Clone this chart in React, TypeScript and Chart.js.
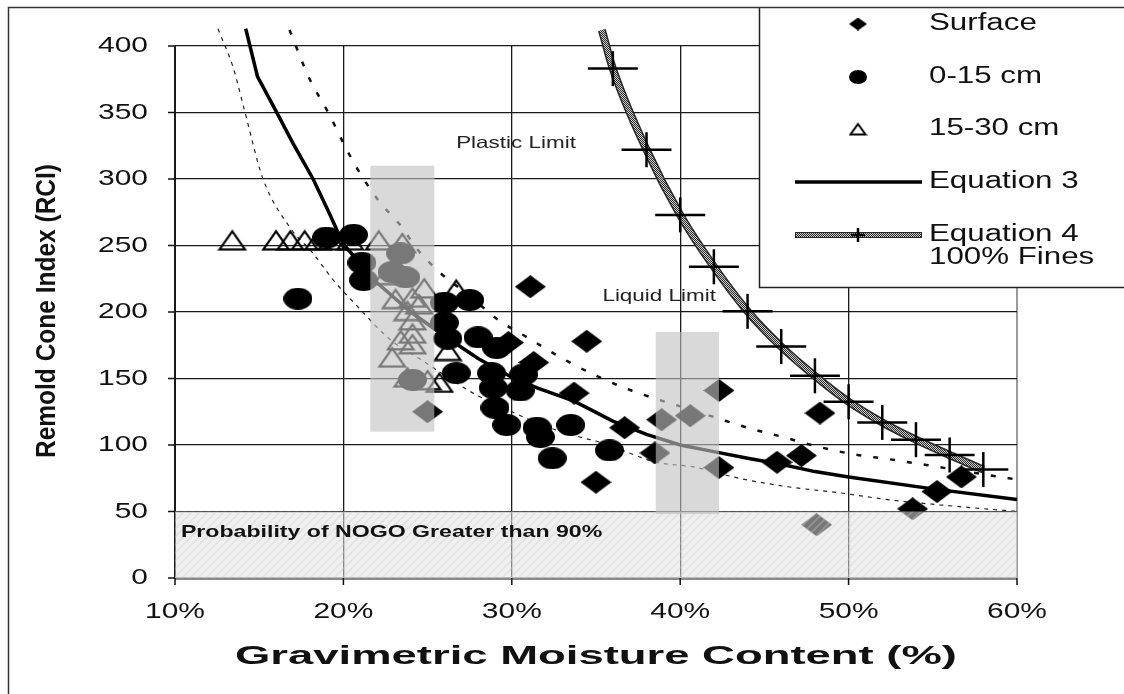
import React, { useEffect, useRef } from 'react';
import { Chart, registerables } from 'chart.js';

Chart.register(...registerables);

// ---------- tick labels ----------
const xTickValues = [10, 20, 30, 40, 50, 60];
const xTickLabels = ['10%', '20%', '30%', '40%', '50%', '60%'];
const yTickValues = [0, 50, 100, 150, 200, 250, 300, 350, 400];
const yTickLabels = ['0', '50', '100', '150', '200', '250', '300', '350', '400'];

// ---------- Surface (diamonds) ----------
const surfaceX = [31.1, 34.45, 31.3, 33.7, 29.8, 35.0, 36.7, 38.5, 38.9, 40.6, 42.3, 42.3, 48.3, 45.75, 47.2, 55.25, 56.7, 53.8, 48.1, 25.0];
const surfaceY = [219, 178, 162, 139, 177, 72, 113, 94, 119, 122, 141, 83, 124, 87, 92, 65, 76, 52, 40, 125];

// ---------- 0-15 cm (circles) ----------
const depth1X = [17.3, 19.0, 20.6, 21.1, 21.2, 23.4, 22.9, 23.7, 24.1, 26.0, 27.5, 26.0, 28.0, 29.1, 26.7, 28.8, 30.7, 28.9, 30.5, 29.0, 29.7, 31.5, 31.7, 33.5, 32.4, 35.8, 26.2];
const depth1Y = [210, 256, 258, 237, 224, 244, 230, 226, 149, 207, 209, 192, 181, 173, 154, 154, 153, 143, 141, 128, 115, 113, 106, 115, 90, 96, 180];

// ---------- 15-30 cm (triangles) ----------
const depth2X = [13.4, 16.0, 16.85, 17.7, 18.5, 19.3, 20.4, 22.1, 23.5, 23.1, 24.1, 24.8, 24.5, 23.8, 23.4, 24.1, 22.9, 24.1, 24.1, 23.8, 25.0, 26.2, 25.7, 26.7, 22.6];
const depth2Y = [254, 254, 254, 254, 254, 254, 254, 254, 252, 210, 211, 218, 206, 201, 179, 184, 166, 176, 194, 151, 149, 171, 147, 217, 228];

// ---------- Equation 3 ----------
const eq3X = [14.2, 14.9, 16.0, 17.0, 18.2, 19.1, 20.0, 22, 24, 26, 28, 30, 31.5, 33.7, 36, 38, 40, 42, 44, 46, 48, 50, 55, 60];
const eq3Y = [413, 377, 351, 327, 300, 276, 251, 222, 200, 182, 165, 151, 143, 133, 118, 108, 100, 95, 90, 85.5, 80, 76, 67, 59];

// ---------- upper dashed bound ----------
const upperX = [16.8, 18.0, 19.1, 20.2, 21.2, 22.2, 23.4, 24.4, 25.7, 27.5, 29.2, 30.9, 33.3, 35.2, 37.1, 40.0, 42.0, 44.0, 46.1, 48.1, 50.3, 52.3, 54.6, 57.0, 60.0];
const upperY = [412, 375, 350, 322, 300, 282, 265, 247, 230, 212, 194, 181, 163, 151, 141, 129, 121, 113, 106, 99, 93, 89.5, 85, 80, 74];

// ---------- lower dotted bound ----------
const lowerX = [12.55, 13.45, 14.16, 15.2, 16.8, 18.2, 19.4, 21.0, 22.2, 23.0, 24.5, 26.2, 27.7, 30.0, 32.0, 34.05, 35.4, 38.6, 40.8, 43.5, 46.5, 49.5, 52.5, 55.4, 60.0];
const lowerY = [413, 384, 350, 301, 264, 244, 224, 202, 186, 177, 165, 151, 139, 125, 114, 106, 101.5, 87, 83.5, 75, 68.4, 64, 58.6, 55, 50];

// ---------- Equation 4, 100% fines ----------
const eq4StartX = [35.35];
const eq4StartY = [412];
const eq4X = [36, 38, 40, 42, 44, 46, 48, 50, 52, 54, 56, 58];
const eq4Y = [383, 322, 273, 234, 200.5, 174, 152, 132.5, 117, 104, 92.5, 81.5];

// ---------- shaded regions ----------
const plasticBoxX = [21.6, 25.4];
const plasticBoxY = [110, 310];
const liquidBoxX = [38.55, 42.3];
const liquidBoxY = [48, 185];
const nogoY = [0, 50];

// ---------- annotations ----------
const plasticLabel = { text: 'Plastic Limit', x: 30.25, y: 327 };
const liquidLabel = { text: 'Liquid Limit', x: 38.75, y: 212 };
const nogoLabel = { text: 'Probability of NOGO Greater than 90%', x: 10.35, y: 34 };
const xTitle = 'Gravimetric Moisture Content (%)';
const yTitle = 'Remold Cone Index (RCI)';
const legendLabels = ['Surface', '0-15 cm', '15-30 cm', 'Equation 3', 'Equation 4', '100% Fines'];

const W = 1124;
const H = 694;
const FONT = '"Liberation Sans", Arial, Helvetica, sans-serif';
const SX = 1.36;

function pts(xs: number[], ys: number[]) {
  return xs.map((x, i) => ({ x, y: ys[i] }));
}

function makeCanvas(w: number, h: number) {
  const c = document.createElement('canvas');
  c.width = w;
  c.height = h;
  return c;
}

function makeDiamond(w: number, h: number) {
  const c = makeCanvas(w, h);
  const g = c.getContext('2d')!;
  g.fillStyle = '#000';
  g.beginPath();
  g.moveTo(w / 2, 0);
  g.lineTo(w, h / 2);
  g.lineTo(w / 2, h);
  g.lineTo(0, h / 2);
  g.closePath();
  g.fill();
  return c;
}

function makeEllipse(w: number, h: number) {
  const c = makeCanvas(w, h);
  const g = c.getContext('2d')!;
  g.fillStyle = '#000';
  g.beginPath();
  g.ellipse(w / 2, h / 2, w / 2, h / 2, 0, 0, Math.PI * 2);
  g.fill();
  return c;
}

function makeTriangle(w: number, h: number, lw: number) {
  const c = makeCanvas(w, h);
  const g = c.getContext('2d')!;
  g.strokeStyle = '#000';
  g.lineWidth = lw;
  g.lineJoin = 'miter';
  g.beginPath();
  g.moveTo(w / 2, lw);
  g.lineTo(w - lw, h - lw / 2 - 0.5);
  g.lineTo(lw, h - lw / 2 - 0.5);
  g.closePath();
  g.stroke();
  return c;
}

function makeChecker() {
  const c = makeCanvas(2, 2);
  const g = c.getContext('2d')!;
  g.fillStyle = '#cfcfcf';
  g.fillRect(0, 0, 2, 2);
  g.fillStyle = '#2a2a2a';
  g.fillRect(0, 0, 1, 1);
  g.fillRect(1, 1, 1, 1);
  return c;
}

function makeHatch() {
  const c = makeCanvas(8, 8);
  const g = c.getContext('2d')!;
  g.fillStyle = 'rgba(227,227,227,0.53)';
  g.fillRect(0, 0, 8, 8);
  g.strokeStyle = 'rgba(200,200,200,0.35)';
  g.lineWidth = 1.6;
  g.beginPath();
  g.moveTo(0, 8);
  g.lineTo(8, 0);
  g.moveTo(-4, 4);
  g.lineTo(4, -4);
  g.moveTo(4, 12);
  g.lineTo(12, 4);
  g.stroke();
  return c;
}

function stretchText(
  ctx: CanvasRenderingContext2D,
  text: string,
  x: number,
  y: number,
  font: string,
  sx: number,
  align: CanvasTextAlign,
  color: string
) {
  ctx.save();
  ctx.font = font;
  ctx.fillStyle = color;
  ctx.textAlign = align;
  ctx.textBaseline = 'middle';
  ctx.translate(x, y);
  ctx.scale(sx, 1);
  ctx.fillText(text, 0, 0);
  ctx.restore();
}

export default function App() {
  const ref = useRef<HTMLCanvasElement>(null);

  useEffect(() => {
    const canvas = ref.current!;
    const diamond = makeDiamond(31, 23);
    const ellipse = makeEllipse(29, 22);
    const triangle = makeTriangle(30, 22, 2.2);
    const lgDiamond = makeDiamond(18, 13);
    const lgEllipse = makeEllipse(18, 14);
    const lgTriangle = makeTriangle(19, 14, 2);
    const tmp = makeCanvas(2, 2).getContext('2d')!;
    const checker = tmp.createPattern(makeChecker(), 'repeat')!;
    const hatch = tmp.createPattern(makeHatch(), 'repeat')!;

    const overlayPlugin = {
      id: 'overlay',
      beforeDraw(chart: any) {
        const { ctx } = chart;
        ctx.save();
        ctx.fillStyle = '#ffffff';
        ctx.fillRect(0, 0, chart.width, chart.height);
        ctx.restore();
      },
      afterDatasetsDraw(chart: any) {
        const { ctx } = chart;
        const x = chart.scales.x;
        const y = chart.scales.y;
        ctx.save();
        // NOGO hatched overlay
        const hx0 = x.getPixelForValue(10);
        const hx1 = x.getPixelForValue(60);
        const hy0 = y.getPixelForValue(nogoY[1]);
        const hy1 = y.getPixelForValue(nogoY[0]);
        ctx.fillStyle = hatch;
        ctx.fillRect(hx0, hy0, hx1 - hx0, hy1 - hy0);
        // limit boxes
        ctx.fillStyle = 'rgba(193,193,193,0.62)';
        const boxes = [
          [plasticBoxX, plasticBoxY],
          [liquidBoxX, liquidBoxY],
        ];
        for (const [bx, by] of boxes) {
          const x0 = x.getPixelForValue(bx[0]);
          const x1 = x.getPixelForValue(bx[1]);
          const y0 = y.getPixelForValue(by[1]);
          const y1 = y.getPixelForValue(by[0]);
          ctx.fillRect(x0, y0, x1 - x0, y1 - y0);
        }
        ctx.restore();
      },
      afterDraw(chart: any) {
        const { ctx } = chart;
        const x = chart.scales.x;
        const y = chart.scales.y;
        const area = chart.chartArea;
        ctx.save();
        // tick marks
        ctx.strokeStyle = '#111';
        ctx.lineWidth = 1.5;
        ctx.beginPath();
        yTickValues.forEach((v) => {
          const py = y.getPixelForValue(v);
          ctx.moveTo(area.left - 7, py);
          ctx.lineTo(area.left, py);
        });
        xTickValues.forEach((v) => {
          const px = x.getPixelForValue(v);
          ctx.moveTo(px, area.bottom);
          ctx.lineTo(px, area.bottom + 7);
        });
        ctx.stroke();

        // tick labels
        const tickFont = `22px ${FONT}`;
        yTickValues.forEach((v, i) => {
          stretchText(ctx, yTickLabels[i], 148, y.getPixelForValue(v), tickFont, SX, 'right', '#111');
        });
        xTickValues.forEach((v, i) => {
          stretchText(ctx, xTickLabels[i], x.getPixelForValue(v), 612, tickFont, SX, 'center', '#111');
        });

        // axis titles
        ctx.save();
        ctx.font = `bold 25px ${FONT}`;
        const xw = ctx.measureText(xTitle).width;
        ctx.restore();
        stretchText(ctx, xTitle, (area.left + area.right) / 2, 657, `bold 25px ${FONT}`, 722 / xw, 'center', '#111');

        ctx.save();
        ctx.font = `bold 20px ${FONT}`;
        const yw = ctx.measureText(yTitle).width;
        ctx.translate(47, 311);
        ctx.rotate(-Math.PI / 2);
        ctx.scale(294 / yw, SX);
        ctx.fillStyle = '#111';
        ctx.textAlign = 'center';
        ctx.textBaseline = 'middle';
        ctx.fillText(yTitle, 0, 0);
        ctx.restore();

        // annotations
        const labFont = `16.5px ${FONT}`;
        stretchText(ctx, plasticLabel.text, x.getPixelForValue(plasticLabel.x), y.getPixelForValue(plasticLabel.y), labFont, SX, 'center', '#222');
        stretchText(ctx, liquidLabel.text, x.getPixelForValue(liquidLabel.x), y.getPixelForValue(liquidLabel.y), labFont, SX, 'center', '#222');
        stretchText(ctx, nogoLabel.text, x.getPixelForValue(nogoLabel.x), y.getPixelForValue(nogoLabel.y), `bold 17px ${FONT}`, SX, 'left', '#111');

        // legend
        ctx.fillStyle = '#fff';
        ctx.fillRect(759, 7, W - 759, 287 - 7);
        ctx.strokeStyle = '#222';
        ctx.lineWidth = 1.5;
        ctx.beginPath();
        ctx.moveTo(759.5, 7);
        ctx.lineTo(759.5, 287.5);
        ctx.lineTo(W, 287.5);
        ctx.stroke();
        const symX = 858;
        const rows = [24, 77, 129, 182, 235, 258];
        ctx.drawImage(lgDiamond, symX - 9, rows[0] - 6.5);
        ctx.drawImage(lgEllipse, symX - 9, rows[1] - 7);
        ctx.drawImage(lgTriangle, symX - 9.5, rows[2] - 7);
        ctx.strokeStyle = '#000';
        ctx.lineWidth = 3.5;
        ctx.beginPath();
        ctx.moveTo(795, rows[3]);
        ctx.lineTo(922, rows[3]);
        ctx.stroke();
        ctx.fillStyle = '#2a2a2a';
        ctx.fillRect(795, rows[4] - 3, 127, 6);
        ctx.fillStyle = checker;
        ctx.fillRect(796, rows[4] - 2, 125, 4);
        ctx.strokeStyle = '#000';
        ctx.lineWidth = 2.5;
        ctx.beginPath();
        ctx.moveTo(symX - 7, rows[4]);
        ctx.lineTo(symX + 7, rows[4]);
        ctx.moveTo(symX, rows[4] - 7);
        ctx.lineTo(symX, rows[4] + 7);
        ctx.stroke();
        const lgFont = `23px ${FONT}`;
        legendLabels.forEach((t, i) => {
          stretchText(ctx, t, 929, rows[i], lgFont, SX, 'left', '#111');
        });

        // outer frame
        ctx.strokeStyle = '#333';
        ctx.lineWidth = 1.5;
        ctx.beginPath();
        ctx.moveTo(8.5, H + 2);
        ctx.lineTo(8.5, 7.5);
        ctx.lineTo(W + 2, 7.5);
        ctx.stroke();
        ctx.restore();
      },
    };

    const markerBase = { showLine: false, pointRadius: 6, pointHoverRadius: 6 };
    const lineBase = { showLine: true, pointRadius: 0, pointHoverRadius: 0, clip: false as any, fill: false };

    const chart = new Chart(canvas, {
      type: 'scatter',
      data: {
        datasets: [
          { ...markerBase, label: '15-30 cm', data: pts(depth2X, depth2Y), pointStyle: triangle as any },
          { ...markerBase, label: 'Surface', data: pts(surfaceX, surfaceY), pointStyle: diamond as any },
          { ...markerBase, label: '0-15 cm', data: pts(depth1X, depth1Y), pointStyle: ellipse as any },
          {
            label: 'eq4 h', data: pts(eq4X, eq4Y), showLine: false, pointStyle: 'line', pointRadius: 25,
            pointBorderColor: '#000', pointBorderWidth: 2.5, pointHoverRadius: 25,
          },
          {
            label: 'eq4 v', data: pts(eq4X, eq4Y), showLine: false, pointStyle: 'line', pointRotation: 90, pointRadius: 17.5,
            pointBorderColor: '#000', pointBorderWidth: 2.5, pointHoverRadius: 17.5,
          },
          { ...lineBase, label: 'Equation 4 inner', data: pts(eq4StartX.concat(eq4X), eq4StartY.concat(eq4Y)), borderColor: checker as any, borderWidth: 5, cubicInterpolationMode: 'monotone' },
          { ...lineBase, label: 'Equation 4 outer', data: pts(eq4StartX.concat(eq4X), eq4StartY.concat(eq4Y)), borderColor: '#2a2a2a', borderWidth: 8, cubicInterpolationMode: 'monotone' },
          { ...lineBase, label: 'Equation 3', data: pts(eq3X, eq3Y), borderColor: '#000', borderWidth: 3.5, tension: 0 },
          { ...lineBase, label: 'upper', data: pts(upperX, upperY), borderColor: '#111', borderWidth: 2.5, borderDash: [5, 12], cubicInterpolationMode: 'monotone' },
          { ...lineBase, label: 'lower', data: pts(lowerX, lowerY), borderColor: '#222', borderWidth: 1.2, borderDash: [4, 5], cubicInterpolationMode: 'monotone' },
        ] as any,
      },
      options: {
        animation: false,
        responsive: false,
        maintainAspectRatio: false,
        devicePixelRatio: 1,
        events: [],
        layout: { padding: { left: 175, top: 46, right: W - 1017, bottom: H - 578 } },
        plugins: { legend: { display: false }, tooltip: { enabled: false } },
        scales: {
          x: {
            type: 'linear', min: 10, max: 60,
            ticks: { display: false, stepSize: 10 },
            border: { display: false },
            grid: {
              drawTicks: false,
              color: (c: any) => (c.tick && c.tick.value === 60 ? '#9a9a9a' : '#1a1a1a'),
              lineWidth: (c: any) => (c.tick && (c.tick.value === 10 || c.tick.value === 60) ? 2 : 1.3),
            },
          },
          y: {
            type: 'linear', min: 0, max: 400,
            ticks: { display: false, stepSize: 50 },
            border: { display: false },
            grid: {
              drawTicks: false,
              color: (c: any) => (c.tick && c.tick.value === 0 ? '#8a8a8a' : '#1a1a1a'),
              lineWidth: (c: any) => (c.tick && c.tick.value === 0 ? 3 : 1.3),
            },
          },
        },
      } as any,
      plugins: [overlayPlugin],
    });
    return () => chart.destroy();
  }, []);

  return (
    <canvas
      ref={ref}
      width={W}
      height={H}
      style={{ position: 'fixed', left: 0, top: 0, width: W, height: H, display: 'block' }}
    />
  );
}
